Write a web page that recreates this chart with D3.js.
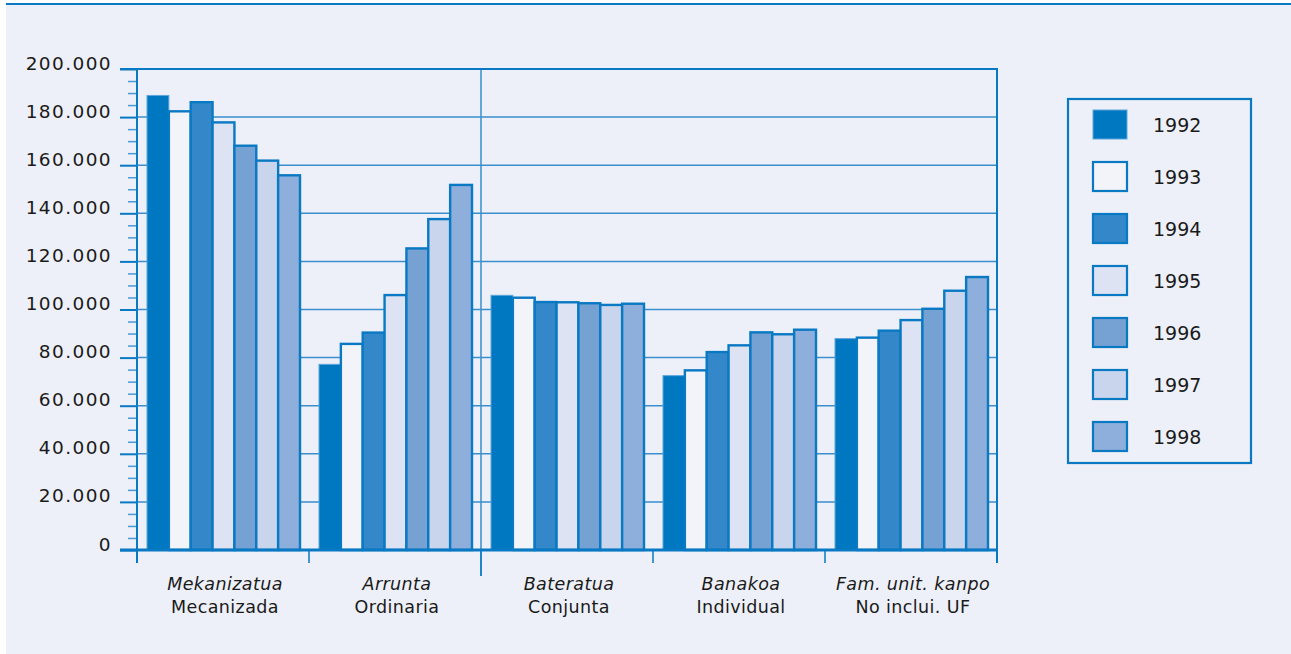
<!DOCTYPE html>
<html><head><meta charset="utf-8">
<script src="https://cdn.jsdelivr.net/npm/d3@7"></script>
<style>
html,body{margin:0;padding:0;background:#fff;}
svg text{font-family:"DejaVu Sans",sans-serif;fill:#1a1a1a;}
</style></head>
<body><svg id="c" width="1291" height="654"></svg>
<script>
const categoriesEu = ["Mekanizatua","Arrunta","Bateratua","Banakoa","Fam. unit. kanpo"];
const categoriesEs = ["Mecanizada","Ordinaria","Conjunta","Individual","No inclui. UF"];
const years = ["1992","1993","1994","1995","1996","1997","1998"];
const values = {
  "1992": [189000, 77200, 105900, 72500, 87900],
  "1993": [182400, 85700, 104900, 74700, 88300],
  "1994": [186200, 90400, 103100, 82300, 91200],
  "1995": [177800, 106000, 103000, 85100, 95600],
  "1996": [168100, 125400, 102600, 90500, 100300],
  "1997": [161900, 137600, 101900, 89700, 107800],
  "1998": [155800, 151800, 102400, 91600, 113500]
};
const yTicks = [0,20000,40000,60000,80000,100000,120000,140000,160000,180000,200000];
const yTickLabels = ["0","20.000","40.000","60.000","80.000","100.000","120.000","140.000","160.000","180.000","200.000"];
const fills = ["#0078c1","#f2f4fa","#3488c9","#dde3f3","#76a1d3","#c9d5ed","#8eaedb"];

const BLUE = "#0a79c3", GRID = "#3a8fcc";
const svg = d3.select("#c");
// panel
svg.append("rect").attr("x",6).attr("y",5).attr("width",1285).attr("height",649).attr("fill","#edf0f8");
svg.append("line").attr("x1",6).attr("x2",1291).attr("y1",4).attr("y2",4).attr("stroke","#0a7ac4").attr("stroke-width",2);

const L=137,R=997,T=69,B=550;
const x = d3.scaleBand().domain(categoriesEu).range([L,R]);
const xi = d3.scaleBand().domain(years).range([10, x.bandwidth()-9]);
const y = d3.scaleLinear().domain([0,200000]).range([B,T]);

const g = svg.append("g");
// gridlines
g.selectAll("line.grid").data(yTicks.filter(v=>v>0 && v<200000)).join("line")
  .attr("x1",L).attr("x2",R).attr("y1",d=>y(d)).attr("y2",d=>y(d))
  .attr("stroke",GRID).attr("stroke-width",1.5);
// divider
g.append("line").attr("x1",x(categoriesEu[2])).attr("x2",x(categoriesEu[2])).attr("y1",T).attr("y2",B+26)
  .attr("stroke",GRID).attr("stroke-width",1.5);
// frame top and right
g.append("line").attr("x1",L-17).attr("x2",R+1).attr("y1",T).attr("y2",T).attr("stroke",BLUE).attr("stroke-width",2);
g.append("line").attr("x1",R).attr("x2",R).attr("y1",T).attr("y2",B+13).attr("stroke",BLUE).attr("stroke-width",2);

// bars
years.forEach((yr,i)=>{
  g.selectAll("rect.b"+yr).data(values[yr]).join("rect")
    .attr("x",(d,j)=>x(categoriesEu[j])+xi(yr))
    .attr("y",d=>y(d))
    .attr("width",xi.bandwidth())
    .attr("height",d=>B-y(d))
    .attr("fill",fills[i])
    .attr("stroke", i===0 ? "#5ea6dc" : BLUE)
    .attr("stroke-width", i===0 ? 1 : 2.4);
});

// y axis
const yAxis = d3.axisLeft(y).tickValues(yTicks).tickSize(17).tickFormat((d,i)=>yTickLabels[i]);
const ya = g.append("g").attr("transform",`translate(${L},0)`).call(yAxis);
ya.select(".domain").remove();
ya.selectAll(".tick line").attr("stroke",BLUE).attr("stroke-width",2);
ya.selectAll(".tick text").attr("x",-25).attr("dy",0).attr("font-size",18.5).attr("letter-spacing",1.4)
  .attr("fill","#1a1a1a").style("font-family","DejaVu Sans");
const minor = d3.range(5000,200000,5000).filter(v=>v%20000!==0);
const yMinor = d3.axisLeft(y).tickValues(minor).tickSize(9).tickFormat("");
const ym = g.append("g").attr("transform",`translate(${L},0)`).call(yMinor);
ym.select(".domain").remove();
ym.selectAll(".tick line").attr("stroke","#4a9ad4").attr("stroke-width",1.5);
g.append("line").attr("x1",L).attr("x2",L).attr("y1",T).attr("y2",B+13).attr("stroke",BLUE).attr("stroke-width",2);

// x axis
g.append("line").attr("x1",L-17).attr("x2",R+1).attr("y1",B).attr("y2",B).attr("stroke",BLUE).attr("stroke-width",3);
const bounds = categoriesEu.map(c=>x(c)).concat([R]);
g.selectAll("line.xt").data(bounds).join("line")
  .attr("x1",d=>d).attr("x2",d=>d).attr("y1",B).attr("y2",(d,i)=>i===2?B+26:B+13)
  .attr("stroke",BLUE).attr("stroke-width",1.5);
g.selectAll("text.eu").data(categoriesEu).join("text")
  .attr("x",d=>x(d)+x.bandwidth()/2+2).attr("y",590).attr("text-anchor","middle")
  .attr("font-size",17.5).attr("font-style","italic").attr("letter-spacing",0.4).text(d=>d);
g.selectAll("text.es").data(categoriesEs).join("text")
  .attr("x",(d,i)=>x(categoriesEu[i])+x.bandwidth()/2+2).attr("y",613).attr("text-anchor","middle")
  .attr("font-size",17.5).attr("letter-spacing",0.4).text(d=>d);

// legend
const lg = svg.append("g");
lg.append("rect").attr("x",1068).attr("y",99).attr("width",183).attr("height",364)
  .attr("fill","none").attr("stroke",BLUE).attr("stroke-width",2.2);
const ly = d3.scalePoint().domain(years).range([124.5,436.5]);
lg.selectAll("rect.sw").data(years).join("rect")
  .attr("x",1093).attr("y",d=>ly(d)-14.5).attr("width",34).attr("height",29)
  .attr("fill",(d,i)=>fills[i]).attr("stroke",(d,i)=>i===0?"#5ea6dc":BLUE).attr("stroke-width",(d,i)=>i===0?1:2.2);
lg.selectAll("text.lt").data(years).join("text")
  .attr("x",1153).attr("y",d=>ly(d)+7).attr("font-size",19).text(d=>d);
</script></body></html>
